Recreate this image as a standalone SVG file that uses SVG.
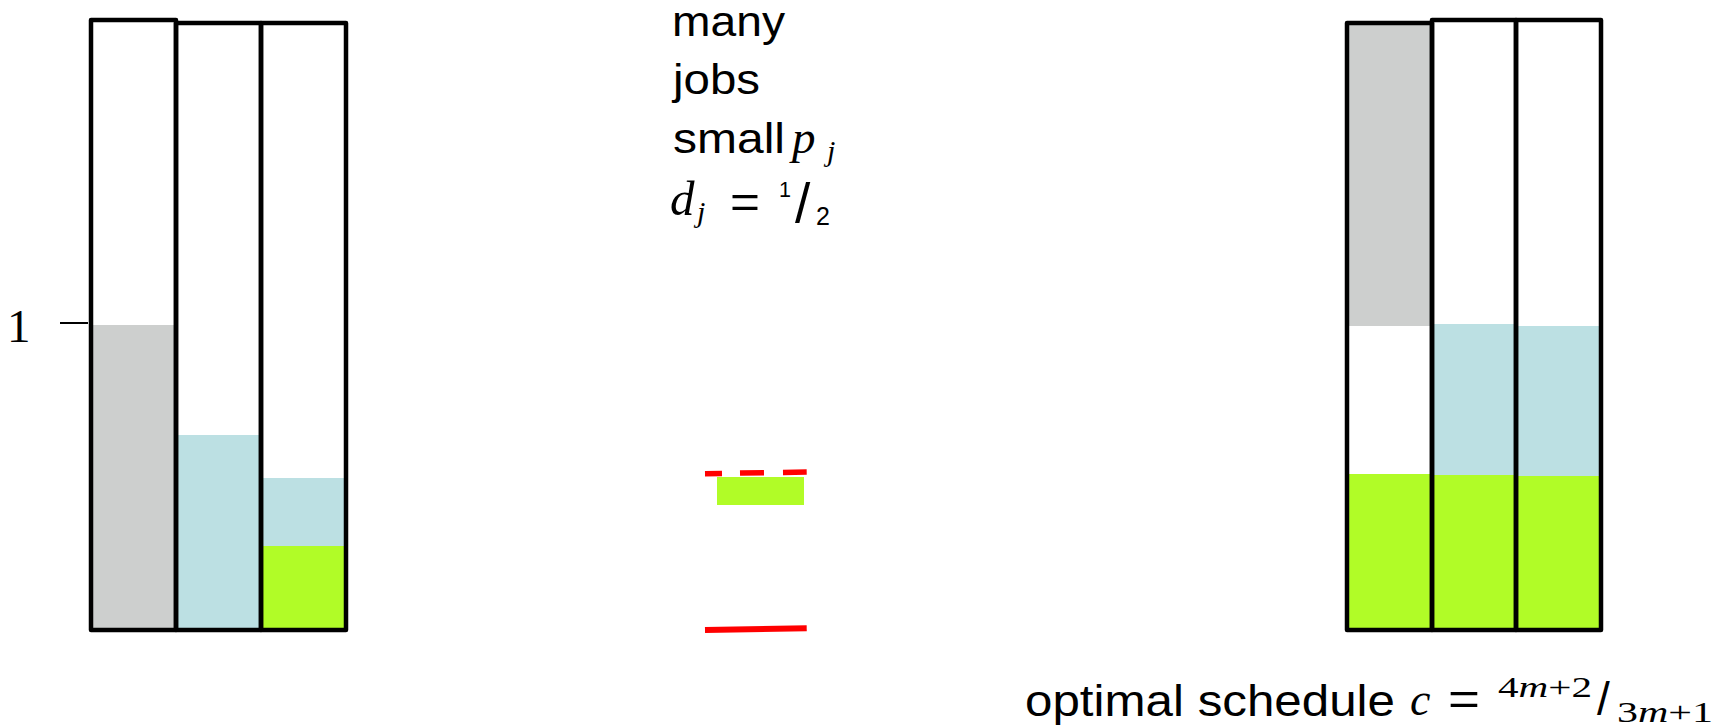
<svg xmlns="http://www.w3.org/2000/svg" width="1731" height="726" viewBox="0 0 1731 726">
<style>
.box{fill:none;stroke:#000;stroke-width:4.5;stroke-linejoin:round}
.gray{fill:#CDCFCE}
.blue{fill:#BCE0E3}
.green{fill:#B1FC27}
.red{stroke:#FF0000;fill:none}
.sans{font-family:"Liberation Sans",Arial,sans-serif;fill:#000}
.math{font-family:"Liberation Serif","Times New Roman",serif;fill:#000}
.it{font-style:italic}
</style>
<rect width="1731" height="726" fill="#fff"/>
<g id="left-schedule">
  <rect class="gray" x="93" y="325" width="81" height="305"/>
  <rect class="blue" x="178" y="435" width="81" height="194"/>
  <rect class="blue" x="263" y="478" width="81" height="68"/>
  <rect class="green" x="263" y="546" width="81" height="83"/>
  <rect class="box" x="91" y="20" width="85" height="610"/>
  <rect class="box" x="176" y="23" width="85" height="607"/>
  <rect class="box" x="261" y="23" width="85" height="607"/>
  <line x1="60" y1="323" x2="88" y2="323" stroke="#000" stroke-width="2"/>
  <text class="math" x="7" y="342" font-size="47">1</text>
</g>
<g id="middle-label">
  <text class="sans" x="672" y="36" font-size="43" textLength="113" lengthAdjust="spacingAndGlyphs">many</text>
  <text class="sans" x="673" y="94" font-size="43" textLength="87" lengthAdjust="spacingAndGlyphs">jobs</text>
  <text class="sans" x="673" y="153" font-size="43" textLength="112" lengthAdjust="spacingAndGlyphs">small</text>
  <text class="math it" x="792" y="153" font-size="47">p</text>
  <text class="math it" x="827" y="161" font-size="30">j</text>
  <text class="math it" x="670" y="215" font-size="49">d</text>
  <text class="math it" x="697" y="222" font-size="30">j</text>
  <text class="sans" x="730" y="218" font-size="46" textLength="30" lengthAdjust="spacingAndGlyphs">=</text>
  <text class="sans" x="779" y="197" font-size="22" textLength="12" lengthAdjust="spacingAndGlyphs">1</text>
  <text class="sans" x="795" y="222" font-size="55">/</text>
  <text class="sans" x="816" y="225" font-size="25">2</text>
</g>
<g id="middle-job">
  <rect class="green" x="717" y="477" width="87" height="28"/>
  <path class="red" d="M705,473.7 L806.7,472" stroke-width="5.5" stroke-dasharray="17 18 24 19 24"/>
  <path class="red" d="M705,630 L806.7,628.3" stroke-width="6"/>
</g>
<g id="right-schedule">
  <rect class="gray" x="1349" y="25" width="81" height="301"/>
  <rect class="green" x="1349" y="474" width="81" height="155"/>
  <rect class="blue" x="1434" y="324" width="81" height="151"/>
  <rect class="green" x="1434" y="475" width="81" height="154"/>
  <rect class="blue" x="1518" y="326" width="81" height="150"/>
  <rect class="green" x="1518" y="476" width="81" height="153"/>
  <rect class="box" x="1347" y="23" width="85" height="607"/>
  <rect class="box" x="1432" y="20" width="84" height="610"/>
  <rect class="box" x="1516" y="20" width="85" height="610"/>
</g>
<g id="caption">
  <text class="sans" x="1025" y="716" font-size="44" textLength="370" lengthAdjust="spacingAndGlyphs">optimal schedule</text>
  <text class="math it" x="1410" y="715" font-size="46">c</text>
  <text class="sans" x="1448" y="715" font-size="46" textLength="32" lengthAdjust="spacingAndGlyphs">=</text>
  <text class="math" x="1498" y="697" font-size="30" textLength="94" lengthAdjust="spacingAndGlyphs">4<tspan class="it">m</tspan>+2</text>
  <text class="sans" x="1597" y="715" font-size="46">/</text>
  <text class="math" x="1617" y="722" font-size="30" textLength="96" lengthAdjust="spacingAndGlyphs">3<tspan class="it">m</tspan>+1</text>
</g>
</svg>
